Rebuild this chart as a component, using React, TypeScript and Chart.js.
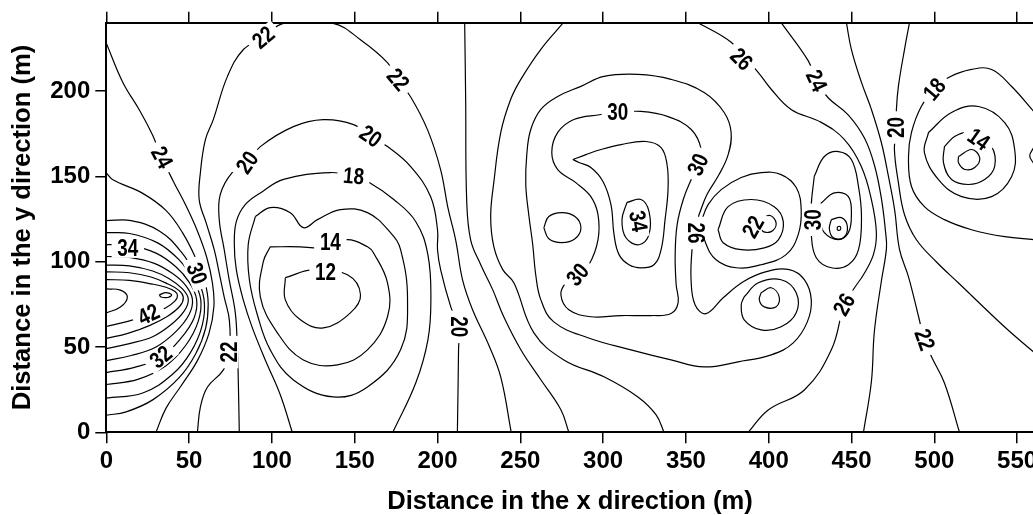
import React, { useEffect, useRef } from 'react';
import { Chart, registerables } from 'chart.js';

Chart.register(...registerables);

type P = [number, number];

const xTicks = [0, 50, 100, 150, 200, 250, 300, 350, 400, 450, 500, 550];
const yTicks = [0, 50, 100, 150, 200];

// ---- west high (nested contours opening to the left border) ----
const westCore: P[] = [[0, 84], [8.5, 83.3], [12.7, 79.2], [8.5, 73.4], [0, 70]];
const westPeak: P[] = [[32, 80.5], [36, 81.8], [39.5, 80.5], [37, 79], [33, 79.3]];
const westU42: P[] = [[0, 89.5], [14, 89], [27, 87], [36, 85], [41.5, 82.5], [43, 80], [41.5, 77], [36, 73], [26, 69], [13, 65], [0, 62]];
const westU40: P[] = [[0, 94], [14, 93.5], [27, 91], [37, 87], [44, 83], [46.5, 79], [44.5, 74], [37, 68], [26, 62.5], [13, 58], [0, 55]];
const westU38: P[] = [[0, 98], [14, 97.5], [28, 94.5], [38, 90], [46, 84], [49.5, 78], [47, 71], [39, 63], [28, 56], [14, 52], [0, 49]];
const westU36: P[] = [[0, 103], [14, 102.5], [29, 99], [40, 93], [48, 86], [52, 78], [50, 69], [42, 59], [30, 50], [15, 45], [0, 42]];
const westU34: P[] = [[0, 110], [14, 109.5], [30, 105], [42, 97], [50, 88], [54.5, 78], [53, 67], [45, 55], [33, 44], [17, 38], [0, 35]];
const westU32: P[] = [[0, 117], [14, 116.5], [31, 111], [44, 101], [52, 90], [57, 78], [55.5, 65], [48, 51], [36, 39], [19, 31], [0, 28]];
const westU30: P[] = [[0, 124], [15, 124], [32, 118], [45, 106], [54, 92], [59, 78], [58, 63], [51, 47], [40, 34], [22, 23], [0, 20]];
const westU28: P[] = [[0, 152], [4, 148], [22, 140], [36, 130], [46, 117], [54, 102], [59.5, 88], [61.5, 76], [60, 61], [54, 46], [44, 32], [28, 19], [12, 12], [0, 10]];
const westU24: P[] = [[0, 228], [10, 205], [20.5, 188], [28, 174], [33, 162], [40.5, 147], [48, 133], [55, 118], [60.5, 103], [64, 88], [65, 74], [62, 58], [55, 42], [45, 27], [36, 14], [30, 0]];

// ---- west low basin ----
const line22West: P[] = [[55, 0], [56.8, 14.7], [61, 26.4], [70.6, 36.4], [74.3, 47], [74.3, 65.7], [71.2, 79.2], [68.2, 93.3], [65.2, 106.9], [60.3, 122.7], [56.1, 136.2], [56.8, 152], [59.8, 171.4], [64.6, 183.2], [73.1, 208.4], [82.8, 224.3], [94.9, 231.3], [107, 239.6], [137, 239.6], [153.5, 230], [169.9, 216.5], [175.9, 206.5], [183.8, 196.5], [194, 177.2], [201.9, 153.8], [206.2, 132], [211, 112.5], [215.2, 89], [221.3, 71.5], [231, 51], [238.2, 32.3], [244.5, 0]];
const line20West: P[] = [[80.3, 0], [79.7, 30.7], [79.1, 50], [77.9, 70], [74.2, 89.4], [71.2, 107], [68.2, 124.6], [68.8, 139.3], [76, 152.2], [85.2, 158], [93, 167.4], [113, 179.1], [131, 183.2], [149.3, 180.3], [159.5, 173.3], [169.8, 167.4], [183.8, 155.7], [195.8, 138.1], [200, 118.7], [200, 107], [201.9, 95.2], [208, 73.5], [212.7, 61.8], [212.7, 48.3], [212, 0]];
const line18West: P[] = [[112.3, 0], [105.1, 21.9], [96, 42.4], [88.2, 61.2], [82.7, 77.6], [78.5, 95.3], [77.3, 110], [78.5, 123.4], [83.9, 133.4], [94.2, 141], [107, 148.2], [135.3, 152.2], [149.3, 149.9], [157.8, 147], [173.6, 136.4], [186.9, 123.4], [194.2, 104], [196, 77.7], [194.2, 54.2], [186.9, 29], [173, 0]];
const loop16West: P[] = [[90, 126.4], [99, 131.7], [111.1, 128.7], [119, 119.9], [127.5, 124.6], [141.4, 130.5], [157.7, 128.7], [171.6, 117], [177.7, 107], [181.9, 77.6], [177.7, 48.3], [157.7, 26.6], [137.1, 20.7], [113, 30.7], [99, 48.3], [91.2, 68.9], [86.4, 89.4], [85.7, 110]];
const loop14West: P[] = [[99, 108.7], [117.2, 108.7], [127.5, 108.2], [145.6, 112.9], [157.7, 108.7], [161.3, 105.2], [169.8, 87.6], [169.8, 67.7], [157.7, 48.3], [139.6, 39.5], [119, 42.4], [103.3, 58.3], [93, 79.4], [94.8, 100]];
const loop12West: P[] = [[108.1, 90.6], [125, 95.3], [145.6, 92.3], [153.5, 80.6], [147.4, 70], [131.1, 61.2], [117.2, 65.9], [108.1, 77.6]];

// ---- middle band ----
const line24Mid: P[] = [[216.4, 240], [217, 195], [217.6, 136.4], [220, 112.8], [226.1, 98.2], [233.3, 83.6], [240, 67.7], [250.3, 48.4], [262.4, 30.8], [274.5, 13.2], [279.3, 0]];
const line26West: P[] = [[276, 240], [262.4, 224.4], [250.3, 206.8], [244.2, 195.1], [238.2, 175.7], [234, 146.4], [232.1, 126.4], [234, 108.8], [239.4, 95.3], [246.1, 87.6], [258.2, 58.3], [276.3, 42.4], [300.5, 32.5], [321, 20.7], [332, 10.2], [336.8, 0]];
const line26East: P[] = [[357.3, 240], [377.3, 228.5], [393.6, 210.9], [401.5, 201], [413.5, 189.2], [431.7, 181.6], [445.6, 171.6], [455.9, 155.8], [462, 136.4], [465, 117], [463.2, 104.1], [457.2, 92.3], [451.8, 84.7], [445.7, 74.8], [437.8, 48.3], [421.5, 24.8], [399.7, 13.1], [387.6, 0]];

// ---- central high cluster ----
const ring28: P[] = [[357.9, 127.5], [362.7, 139.3], [370, 151], [375.5, 162.7], [377.3, 175.7], [373.1, 187.4], [361, 199.1], [341, 206.8], [321, 209.7], [300.5, 208.5], [286.6, 202.7], [272.6, 196.8], [262.4, 189.2], [256.3, 177.4], [253.9, 162.7], [253.3, 145.1], [255.1, 127.5], [257.5, 109.9], [259.3, 92.3], [262.4, 77.6], [270.2, 64.7], [290.8, 55.4], [316.8, 48.3], [341, 42.4], [361, 38.3], [381.5, 41.3], [401.5, 45.4], [414.8, 52.4], [423.3, 64.7], [425.7, 77.6], [421.5, 89.4], [412.4, 95.3], [398.5, 94.1], [384.6, 88.2], [372.5, 78.8], [362.1, 69.5], [355.5, 74.8], [353.1, 89.4], [353.7, 107], [355.5, 117.6]];
const ring30: P[] = [[298.6, 186.2], [308.9, 187.4], [322.9, 188], [339.2, 185], [353.2, 177.4], [359.2, 165.7], [357.4, 156.9], [353.2, 148.1], [348.4, 136.4], [344.7, 121.7], [343.5, 104.1], [344.1, 86.6], [345.3, 76], [341, 69.6], [328.9, 68.4], [310.8, 68.4], [292.6, 67.7], [279.3, 71.8], [274.5, 80.6], [277.5, 87.6], [284.8, 92.3], [291.4, 98.2], [296.9, 112.8], [296.9, 127.5], [292.6, 138.1], [283.5, 146.3], [272.6, 153.9], [269, 163.9], [272.6, 175.7], [282.3, 183.3]];
const ring32: P[] = [[281.7, 159.8], [289.6, 162.7], [298.7, 165.7], [310.8, 168.6], [325.9, 170.4], [335, 166.8], [338.6, 156.9], [339.2, 142.2], [337.4, 124.6], [335, 107], [330.7, 98.2], [322.9, 96.4], [315.6, 98.2], [309.6, 104.1], [306.6, 115.8], [304.7, 133.5], [299.9, 147], [292.6, 155.2], [285.4, 158.1]];
const ring34: P[] = [[314.4, 134.7], [322.9, 136.4], [327.7, 129.4], [327.7, 115.8], [321.7, 109.9], [313.8, 114], [311.4, 124.6]];
const islandWest: P[] = [[264.2, 119.9], [267.2, 126.4], [275.1, 128.7], [283, 126.4], [286.6, 119.9], [283, 113.4], [275.1, 111.1], [267.2, 113.4]];
const tear26: P[] = [[359.2, 123.4], [363.4, 133.4], [371.3, 142.2], [383.4, 149.3], [395.4, 152.2], [407.5, 151], [416.6, 143.4], [419.6, 130.5], [417.8, 115.8], [410.5, 104.1], [395.4, 98.2], [380.3, 96.4], [368.2, 101.1], [361.6, 111.7]];
const tear24: P[] = [[369.4, 118.7], [375.5, 132.2], [389.4, 136.4], [403.3, 132.2], [408.8, 123.4], [405.8, 112.8], [397.3, 108.1], [383.4, 107], [372.5, 111.1]];
const tear22: P[] = [[395.4, 125.2], [400.9, 127], [404.5, 122.3], [401.5, 117.6], [396, 118.2]];
const hex26: P[] = [[385.2, 79.4], [393.7, 87.6], [407.5, 89.4], [416.6, 81.8], [416.6, 70.1], [407.5, 61.8], [395.4, 60], [385.2, 65.9], [383.4, 74.7]];
const hex24: P[] = [[395.4, 81.8], [401.5, 84.7], [406.3, 79.4], [404.5, 73.5], [397.3, 73.5], [394.3, 77.6]];
const peak30: P[] = [[427.5, 150], [433.6, 161.6], [442.1, 164.5], [449.9, 159.8], [454.2, 144], [456, 126.4], [454.2, 107], [448.1, 98.2], [437.8, 96.4], [428.7, 102.3], [425.7, 115.8], [425.7, 133.4]];
const peak32: P[] = [[431.7, 134.4], [439.6, 140.3], [448.1, 138.1], [449.9, 126.4], [448.1, 117], [442.1, 112.9], [433.6, 117], [430.6, 125.8]];
const peak34: P[] = [[437.8, 124.6], [443.9, 125.8], [447.5, 120.5], [445.1, 114], [439, 114], [436.6, 119.3]];
const peakDot: P[] = [[441.5, 120.5], [443.2, 120.5], [443.2, 118.6], [441.5, 118.6]];

// ---- east ----
const line24East: P[] = [[407.5, 240], [423.9, 217.6], [428.7, 205.9], [436, 195.9], [448.1, 185.9], [457.8, 172.4], [463.8, 156.6], [468, 137.2], [470.5, 117.8], [471.1, 107.9], [468, 88.5], [463.8, 59.2], [462, 29.8], [457.2, 0]];
const line22East: P[] = [[446.9, 240], [449.9, 224.4], [456, 205], [462, 189.2], [468, 169.8], [472.3, 149.9], [476, 130.5], [479, 107], [484.4, 91.1], [490.5, 67.7], [494, 54.2], [498.3, 44.2], [506.1, 28.9], [515.2, 0]];
const line20East: P[] = [[485, 240], [482, 224.4], [478.3, 202.7], [477.1, 189.2], [477.1, 178.6], [475.9, 165.7], [478.3, 146.3], [482, 127.5], [489.2, 112.8], [501.3, 99.8], [514.6, 87.5], [542.5, 61.7], [560, 47]];
const line18East: P[] = [[560, 188], [546.7, 202.6], [534.6, 212.6], [522.5, 212.6], [508.6, 207.9], [500.1, 200.9], [492.2, 191], [486.2, 175.7], [484.4, 161.6], [486.2, 144], [494, 132.2], [506.1, 124.6], [522.5, 118.7], [542.5, 114.6], [560, 112.9]];
const loop16East: P[] = [[496.5, 175.7], [510.4, 187.4], [526.7, 190.9], [542.5, 181.5], [548.5, 165.7], [546.7, 149.9], [534.6, 138.1], [516.5, 138.1], [502.5, 148.1], [494, 163.9]];
const loop14East: P[] = [[506.1, 167.4], [512.2, 173.3], [520.6, 175.7], [526.7, 171.5], [534.6, 167.4], [536.4, 155.7], [530.4, 148.1], [520.6, 145.2], [510.4, 148.1], [505.5, 158]];
const loop12East: P[] = [[514.6, 161.6], [522.5, 165.7], [527.4, 161], [524.4, 155.2], [518.4, 154], [514.6, 157.9]];
const edgeArcEast: P[] = [[560, 166.8], [557.6, 162.1], [560, 157.4]];

const openLines: P[][] = [
  westCore, westU42, westU40, westU38, westU36, westU34, westU32, westU30, westU28, westU24,
  line22West, line20West, line18West, line24Mid, line26West, line26East,
  line24East, line22East, line20East, line18East, edgeArcEast,
];
const closedLines: P[][] = [
  westPeak, loop16West, loop14West, loop12West,
  ring28, ring30, ring32, ring34, islandWest, tear26, tear24, tear22, hex26, hex24,
  peak30, peak32, peak34, peakDot, loop16East, loop14East, loop12East,
];

// contour labels: text, x, y, angle (deg)
const contourLabels: [string, number, number, number][] = [
  ['34', 13, 107.5, 0], ['42', 25.5, 69, -25], ['32', 33, 44, -40], ['30', 54.5, 93, 70],
  ['24', 33.5, 161, 62], ['22', 74.3, 47, -90], ['22', 95, 231.3, -40], ['22', 176, 206.5, 50],
  ['20', 85.2, 158, -55], ['20', 159.5, 173.3, 35], ['18', 149.3, 150, 5], ['14', 135.3, 111, 0],
  ['12', 132.4, 93.3, 0], ['20', 212.7, 61.8, 90], ['30', 308.9, 187.4, 0], ['30', 357.4, 156.9, -65],
  ['34', 321.1, 123.7, 80], ['30', 284.8, 92.3, -50], ['26', 355.5, 116.8, 90], ['22', 390.7, 120.3, -60],
  ['30', 427, 124.5, -90], ['26', 445.7, 74.8, -60], ['26', 383.4, 218.5, 45], ['24', 428.7, 205.9, 65],
  ['20', 477.1, 178.6, -90], ['18', 500.1, 200.9, -50], ['14', 526.7, 171.5, 35], ['22', 494, 54.2, 70],
];

const FONT = '"Liberation Sans", Arial, Helvetica, sans-serif';
const CANVAS_W = 1045;
const CANVAS_H = 515;

const labelPlugin = {
  id: 'contourLabels',
  afterDatasetsDraw(chart: any) {
    const { ctx, scales } = chart;
    const sx = scales.x;
    const sy = scales.y;
    ctx.save();
    ctx.font = `bold 23px ${FONT}`;
    ctx.textAlign = 'center';
    ctx.textBaseline = 'middle';
    for (const [t, vx, vy, rot] of contourLabels) {
      const px = sx.getPixelForValue(vx);
      const py = sy.getPixelForValue(vy);
      ctx.save();
      ctx.translate(px, py);
      ctx.rotate((rot * Math.PI) / 180);
      ctx.scale(0.82, 1);
      const w = ctx.measureText(t).width;
      ctx.fillStyle = '#ffffff';
      ctx.fillRect(-w / 2 - 7, -9, w + 14, 18);
      ctx.fillStyle = '#000000';
      ctx.fillText(t, 0, 1);
      ctx.restore();
    }
    ctx.restore();
  },
};

export default function App() {
  const ref = useRef<HTMLCanvasElement | null>(null);

  useEffect(() => {
    if (!ref.current) return;
    const toData = (pts: P[], close: boolean) => {
      const d = pts.map(([x, y]) => ({ x, y }));
      if (close) d.push({ x: pts[0][0], y: pts[0][1] });
      return d;
    };
    const mk = (pts: P[], close: boolean) => ({
      data: toData(pts, close),
      showLine: true,
      borderColor: '#000000',
      borderWidth: 1.2,
      pointRadius: 0,
      tension: 0.4,
      fill: false,
    });
    const datasets = [
      ...openLines.map((l) => mk(l, false)),
      ...closedLines.map((l) => mk(l, true)),
    ];
    const tickFont = { family: FONT, size: 24, weight: 'bold' as const };
    const titleFont = { family: FONT, size: 25.6, weight: 'bold' as const, lineHeight: 1 };
    const grid = { drawOnChartArea: false, drawTicks: true, tickLength: 11, color: '#000000', lineWidth: 1.5 };
    const border = { display: true, color: '#000000', width: 2 };
    const chart = new Chart(ref.current, {
      type: 'scatter',
      data: { datasets },
      plugins: [labelPlugin],
      options: {
        responsive: false,
        animation: false,
        layout: { padding: { left: 0, right: CANVAS_W - 1033.7, top: 0, bottom: 0 } },
        plugins: { legend: { display: false }, tooltip: { enabled: false } },
        scales: {
          x: {
            type: 'linear',
            position: 'bottom',
            min: 0,
            max: 560,
            afterBuildTicks: (s: any) => { s.ticks = xTicks.map((v) => ({ value: v })); },
            afterFit: (s: any) => { s.height = 82.7; },
            ticks: { font: tickFont, color: '#000000', padding: 4, maxRotation: 0, autoSkip: false },
            grid,
            border,
            title: { display: true, text: 'Distance in the x direction (m)', font: titleFont, color: '#000000', padding: { top: 0, bottom: 0 } },
          },
          x2: {
            type: 'linear',
            position: 'top',
            min: 0,
            max: 560,
            afterBuildTicks: (s: any) => { s.ticks = xTicks.map((v) => ({ value: v })); },
            afterFit: (s: any) => { s.height = 22.7; },
            ticks: { display: false },
            grid,
            border,
          },
          y: {
            type: 'linear',
            position: 'left',
            min: 0,
            max: 240,
            afterBuildTicks: (s: any) => { s.ticks = yTicks.map((v) => ({ value: v })); },
            afterFit: (s: any) => { s.width = 106.3; },
            ticks: { font: tickFont, color: '#000000', padding: 5, autoSkip: false },
            grid,
            border,
            title: { display: true, text: 'Distance in the y direction (m)', font: titleFont, color: '#000000', padding: { top: 10.5, bottom: 0 } },
          },
        },
      } as any,
    });
    return () => chart.destroy();
  }, []);

  return (
    <div style={{ position: 'fixed', left: 0, top: 0, width: 1033, height: 515, overflow: 'hidden', background: '#ffffff' }}>
      <canvas ref={ref} width={CANVAS_W} height={CANVAS_H} style={{ display: 'block', width: CANVAS_W, height: CANVAS_H }} />
    </div>
  );
}
